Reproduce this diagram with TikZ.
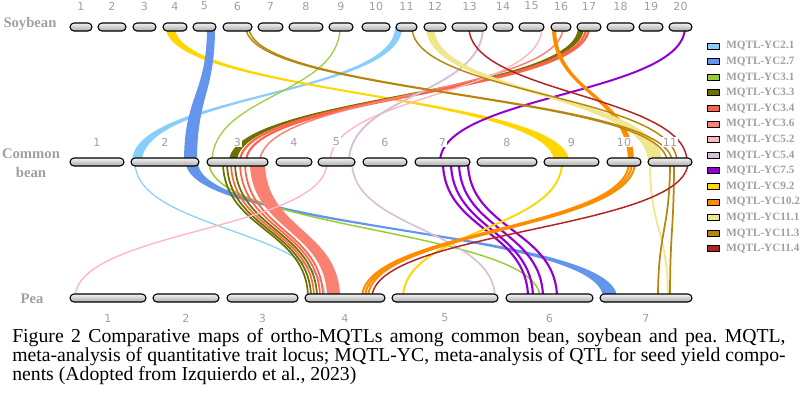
\documentclass[tikz,border=0pt]{standalone}
\usepackage{fontspec}
\setmainfont{Liberation Serif}
\newfontfamily\numfont{DejaVu Sans}
\usetikzlibrary{positioning}

\definecolor{mq21}{HTML}{87CEFA}
\definecolor{mq27}{HTML}{6495ED}
\definecolor{mq31}{HTML}{9ACD32}
\definecolor{mq33}{HTML}{707000}
\definecolor{mq34}{HTML}{FF6347}
\definecolor{mq36}{HTML}{FA8072}
\definecolor{mq52}{HTML}{FFB6C1}
\definecolor{mq54}{HTML}{D8BFD8}
\definecolor{mq75}{HTML}{9400D3}
\definecolor{mq92}{HTML}{FFD700}
\definecolor{mq102}{HTML}{FF8C00}
\definecolor{mq111}{HTML}{F0E68C}
\definecolor{mq113}{HTML}{B8860B}
\definecolor{mq114}{HTML}{B22222}
\definecolor{labgray}{HTML}{A0A0A0}

\tikzset{
  chrom/.style={draw=black, line width=0.8pt, rounded corners=3pt, top color=gray!10, bottom color=gray!65},
  num/.style={text=labgray, font=\numfont\fontsize{8.3}{10}\selectfont, fill=white, inner sep=0.6pt},
  rowname/.style={text=labgray, font=\bfseries\fontsize{11}{14}\selectfont, align=center},
  legbox/.style={draw=black, line width=0.6pt},
  legtext/.style={text=labgray, font=\bfseries\fontsize{8.4}{10}\selectfont, anchor=west, inner sep=0pt},
  caption/.style={font=\fontsize{14.8}{17}\selectfont\frenchspacing, anchor=base west, inner sep=0pt}
}

% thin link: colour, width, x top, y top, x bottom, y bottom
\newcommand{\lk}[6]{\draw [#1, line width=#2] (#3,#4) .. controls (#3,{(#4+#6)/2}) and (#5,{(#4+#6)/2}) .. (#5,#6);}
% ribbon: colour, x1a, x1b, y top, x2a, x2b, y bottom
\newcommand{\rb}[7]{\fill [#1] (#2,#4) .. controls (#2,{(#4+#7)/2}) and (#5,{(#4+#7)/2}) .. (#5,#7) -- (#6,#7) .. controls (#6,{(#4+#7)/2}) and (#3,{(#4+#7)/2}) .. (#3,#4) -- cycle;}

\begin{document}
\begin{tikzpicture}[x=0.75pt, y=-0.75pt]
\useasboundingbox [fill=white] (0,0) rectangle (800,393);

% soybean -> common bean
\rb{mq21}{395}{402}{27}{132}{142}{162}
\rb{mq92}{166}{175}{27}{554}{569}{162}
\rb{mq27}{207}{215}{27}{184}{197}{162}
\lk{mq31}{0.9pt}{340}{27}{212}{162}
\rb{mq33}{578}{584}{27}{229}{237}{162}
\lk{mq34}{1.6pt}{586}{27}{240}{162}
\lk{mq34}{1.6pt}{589}{27}{246}{162}
\lk{mq36}{1.1pt}{563}{27}{260}{162}
\lk{mq52}{1pt}{542}{27}{330}{162}
\lk{mq54}{1.4pt}{483}{27}{349}{162}
\lk{mq75}{1.5pt}{685}{27}{440}{162}
\rb{mq102}{552}{556}{27}{628}{634}{162}
\rb{mq111}{426}{434}{27}{648}{662}{162}
\lk{mq113}{1.1pt}{246}{27}{667}{162}
\lk{mq113}{1.1pt}{249}{27}{672}{162}
\lk{mq113}{1.1pt}{412}{27}{677}{162}
\lk{mq114}{1.1pt}{469}{27}{687}{162}

% common bean -> pea
\lk{mq21}{0.9pt}{135}{162}{325}{298}
\rb{mq27}{186}{198}{162}{603}{617}{298}
\lk{mq31}{1.1pt}{209}{162}{540}{298}
\foreach \a/\b in {223/308, 227/311, 235/317} {\lk{mq33}{1.3pt}{\a}{162}{\b}{298}}
\foreach \a/\b in {231/314, 240/320, 245/323} {\lk{mq34}{1.3pt}{\a}{162}{\b}{298}}
\rb{mq36}{250}{265}{162}{327}{340}{298}
\lk{mq52}{1pt}{327}{162}{75}{298}
\lk{mq54}{1.2pt}{352}{162}{495}{298}
\foreach \a/\b in {443/528, 451/533, 459/543, 468/557} {\lk{mq75}{1.6pt}{\a}{162}{\b}{298}}
\lk{mq92}{1.4pt}{562}{162}{403}{298}
\foreach \a/\b in {629/362, 632/365, 635/368} {\lk{mq102}{1.5pt}{\a}{162}{\b}{298}}
\lk{mq111}{1.3pt}{650}{162}{668}{298}
\lk{mq113}{1.3pt}{670}{162}{658}{298}
\lk{mq113}{1.3pt}{674}{162}{670}{298}
\lk{mq114}{1.1pt}{688}{162}{372}{298}

% chromosomes and their numbers
\foreach \a/\b [count=\i] in {70/92, 98/126, 133/156, 163/187, 193/216, 223/252, 258/283, 289/323, 329/353, 362/390, 396/417, 424/446, 452/487, 493/513, 519/544, 551/571, 577/601, 607/634, 639/663, 669/692} {
  \draw [chrom] (\a,23) rectangle (\b,31);
  \node [num] (sb\i) at ({(\a+\b)/2},6) {\i};
}
\foreach \a/\b [count=\i] in {70/124, 131/199, 207/268, 276/312, 318/355, 363/407, 415/470, 477/537, 544/599, 607/641, 648/692} {
  \draw [chrom] (\a,158) rectangle (\b,166);
  \node [num] (cb\i) at ({(\a+\b)/2},142) {\i};
}
\foreach \a/\b [count=\i] in {70/146, 153/219, 227/298, 305/385, 392/498, 506/593, 600/692} {
  \draw [chrom] (\a,294) rectangle (\b,302);
  \node [num] (pe\i) at ({(\a+\b)/2},318) {\i};
}

\node [rowname] (soy) at (30,24) {Soybean};
\node [rowname] (bean) at (31,163) {Common\\bean};
\node [rowname] (pea) at (32,299) {Pea};

% legend
\foreach \c/\t [count=\i] in {mq21/2.1, mq27/2.7, mq31/3.1, mq33/3.3, mq34/3.4, mq36/3.6, mq52/5.2, mq54/5.4, mq75/7.5, mq92/9.2, mq102/10.2, mq111/11.1, mq113/11.3, mq114/11.4} {
  \draw [legbox, fill=\c] (707,{27.4+15.6*\i}) rectangle (719,{33.4+15.6*\i});
  \node [legtext] (leg\i) at (726,{30.4+15.6*\i}) {MQTL-YC\t};
}

% caption
\node [caption] (cap1) at (12,342) {\makebox[580pt][s]{Figure 2 Comparative maps of ortho-MQTLs among common bean, soybean and pea. MQTL,}};
\node [caption] (cap2) at (12,361) {\makebox[580pt][s]{meta-analysis of quantitative trait locus; MQTL-YC, meta-analysis of QTL for seed yield compo-}};
\node [caption] (cap3) at (12,380) {nents (Adopted from Izquierdo et al., 2023)};
\end{tikzpicture}
\end{document}
